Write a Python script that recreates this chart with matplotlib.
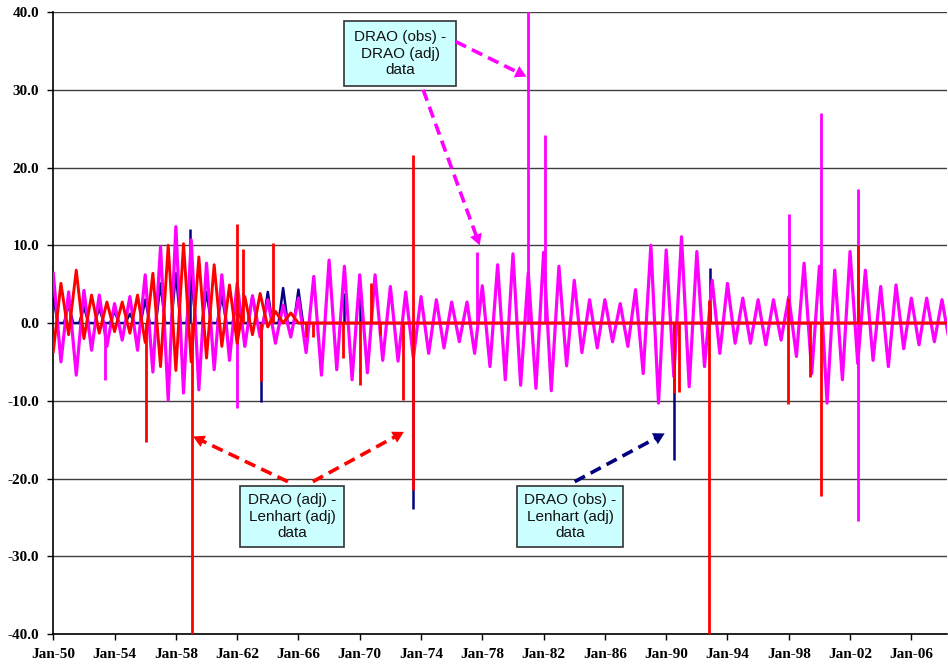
import numpy as np
import matplotlib.pyplot as plt
from matplotlib.patches import Rectangle

# ---- data ----
# DRAO (obs) - DRAO (adj): January highs and July lows, 1950-2008
years = np.arange(1950, 2009)
mag_jan = [6.4, 4.0, 4.2, 3.6, 2.5, 3.4, 6.2, 9.8, 12.4, 10.7,
           7.7, 6.2, 5.1, 3.5, 3.0, 2.3, 3.2, 6.0, 8.1, 7.3,
           6.2, 6.2, 4.7, 4.0, 3.4, 3.0, 2.7, 2.7, 4.8, 7.5,
           8.9, 6.5, 9.1, 7.3, 5.5, 3.0, 3.0, 2.5, 4.3, 10.0,
           9.4, 11.1, 9.2, 5.5, 5.1, 3.2, 3.0, 3.0, 3.4, 7.7,
           7.3, 6.8, 9.2, 6.8, 4.7, 4.9, 3.2, 3.2, 3.0]
mag_jul = [-5.0, -6.7, -3.5, -3.0, -2.2, -3.5, -6.3, -9.9, -9.0, -8.6,
           -6.0, -4.8, -3.0, -1.8, -2.6, -1.8, -3.8, -6.7, -6.0, -7.3,
           -6.4, -4.8, -4.9, -4.5, -3.9, -3.2, -2.4, -3.9, -5.6, -7.3,
           -8.0, -8.4, -8.7, -5.5, -3.8, -3.2, -2.4, -3.0, -6.5, -10.3,
           -6.9, -8.2, -5.6, -3.9, -2.6, -2.6, -2.8, -2.2, -4.3, -6.5,
           -10.3, -7.3, -5.2, -4.8, -5.6, -3.3, -2.8, -2.4, -2.6]
mag_spike_t = [1953.37, 1961.96, 1977.68, 1981.00, 1982.10, 1998.00, 2000.08, 2002.51]
mag_spike_lo = [-7.3, -10.9, 0.0, 0.0, 0.0, 0.0, 0.0, -25.5]
mag_spike_hi = [0.0, 5.0, 9.2, 45.0, 24.2, 14.0, 27.0, 17.2]

# DRAO (adj) - Lenhart (adj): seasonal wave until 1966, then zero
red_years = np.arange(1950, 1967)
red_jan = [-3.7, -1.5, -2.0, -1.3, -1.1, -1.3, -2.5, -5.6, -6.1, -5.0,
           -4.5, -3.0, -2.6, -1.5, -0.5, 0.0, 0.0]
red_jul = [5.1, 6.8, 3.6, 2.7, 2.7, 3.6, 6.4, 10.0, 10.2, 8.5,
           7.5, 4.9, 3.4, 3.8, 1.5, 1.3]
red_spike_t = [1956.03, 1959.05, 1961.96, 1962.35, 1963.55, 1964.35, 1966.50,
               1966.94, 1968.90, 1970.00, 1970.72, 1971.30, 1972.85, 1973.45,
               1990.50, 1990.84, 1992.80, 1997.98, 1999.41, 2000.08, 2002.50]
red_spike_lo = [-15.3, -45.0, -2.6, 0.0, -7.5, 0.0, -1.8,
                -1.8, -4.5, -8.0, 0.0, -1.5, -9.9, -21.5,
                -9.0, -8.9, -45.0, -10.4, -7.0, -22.3, 0.0]
red_spike_hi = [0.0, 0.0, 12.7, 9.5, 0.0, 10.3, 0.0,
                0.0, 0.0, 0.0, 5.1, 0.0, 0.0, 21.6,
                0.0, 0.0, 3.0, 3.2, 0.0, 0.0, 10.1]

# DRAO (obs) - Lenhart (adj): January humps until 1966
navy_years = np.arange(1950, 1967)
navy_jan = [3.2, 2.3, 2.1, 1.9, 1.5, 1.2, 3.0, 5.1, 6.4, 6.0,
            4.0, 3.5, 3.0, 3.5, 4.0, 4.5, 4.3]
navy_spike_t = [1958.95, 1963.55, 1969.00, 1970.00, 1973.45, 1990.50, 1992.84]
navy_spike_lo = [0.0, -10.1, 0.0, 0.0, -23.9, -17.6, 0.0]
navy_spike_hi = [12.1, 0.0, 3.8, 3.4, 0.0, 0.0, 7.1]

tick_years = np.arange(1950, 2007, 4)
tick_labels = ["Jan-%02d" % (y % 100) for y in tick_years]

# ---- build series ----
mag_t = np.empty(2 * len(years))
mag_t[0::2] = years
mag_t[1::2] = years + 0.5
mag_v = np.empty(2 * len(years))
mag_v[0::2] = mag_jan
mag_v[1::2] = mag_jul

red_t = np.empty(len(red_jan) + len(red_jul))
red_t[0::2] = red_years
red_t[1::2] = red_years[:-1] + 0.5
red_v = np.empty(len(red_t))
red_v[0::2] = red_jan
red_v[1::2] = red_jul
red_t = np.append(red_t, 2008.5)
red_v = np.append(red_v, 0.0)

navy_t, navy_v = [], []
for y, p in zip(navy_years, navy_jan):
    navy_t += [y - 0.3, y, y + 0.3]
    navy_v += [0.0, p, 0.0]
navy_t.append(2008.5)
navy_v.append(0.0)

# ---- figure ----
fig = plt.figure(figsize=(9.48, 6.66), dpi=100)
ax = fig.add_axes([0.0562, 0.0480, 0.9428, 0.9339])

MAG, RED, NAVY = "#FF00FF", "#FF0000", "#000080"

ax.plot(navy_t, navy_v, color=NAVY, lw=1.8, zorder=2)
ax.vlines(navy_spike_t, navy_spike_lo, navy_spike_hi, colors=NAVY, lw=1.8, zorder=2)
ax.plot(mag_t, mag_v, color=MAG, lw=2.3, zorder=3)
ax.vlines(mag_spike_t, mag_spike_lo, mag_spike_hi, colors=MAG, lw=2.0, zorder=3)
ax.plot(red_t, red_v, color=RED, lw=2.1, zorder=4)
ax.vlines(red_spike_t, red_spike_lo, red_spike_hi, colors=RED, lw=2.0, zorder=4)

ax.set_xlim(1950, 2008.33)
ax.set_ylim(-40, 40)
ax.set_yticks(np.arange(-40, 41, 10))
ax.set_yticklabels(["%.1f" % v for v in np.arange(-40, 41, 10)])
ax.set_xticks(tick_years)
ax.set_xticklabels(tick_labels)
ax.yaxis.grid(True, color="#404040", lw=1)
ax.set_axisbelow(True)
for s in ["top", "right"]:
    ax.spines[s].set_visible(False)
for s in ["left", "bottom"]:
    ax.spines[s].set_color("black")
    ax.spines[s].set_linewidth(1.2)
ax.tick_params(direction="out", length=4, width=1, pad=6,
               labelsize=11, colors="black")
for lab in ax.get_xticklabels() + ax.get_yticklabels():
    lab.set_fontfamily("Liberation Serif")
    lab.set_fontweight("bold")


# ---- callout boxes and dashed arrows ----
def callout(x0, y0, w, h, text):
    ax.add_patch(Rectangle((x0, y0), w, h, facecolor="#CCFFFF",
                           edgecolor="#333333", lw=1.2, zorder=6))
    ax.text(x0 + w / 2, y0 + h / 2, text, ha="center", va="center",
            fontsize=11, family="Liberation Sans", linespacing=1.25,
            color="#111111", zorder=7)


def dashed_arrow(start, end, color):
    sx, sy = start
    ex, ey = end
    # stop the dashes a bit short of the head
    fx = ex - 0.05 * (ex - sx)
    fy = ey - 0.05 * (ey - sy)
    ax.plot([sx, fx], [sy, fy], color=color, lw=2.6,
            linestyle=(0, (3.2, 1.8)), zorder=6, solid_capstyle="butt")
    ax.annotate("", xy=end, xytext=(ex - 0.08 * (ex - sx), ey - 0.08 * (ey - sy)),
                arrowprops=dict(arrowstyle="-|>,head_length=0.8,head_width=0.45",
                                color=color, lw=0, mutation_scale=10,
                                shrinkA=0, shrinkB=0),
                zorder=6)


callout(1968.98, 30.48, 7.31, 8.36, "DRAO (obs) -\nDRAO (adj)\ndata")
callout(1962.19, -28.81, 6.79, 7.85, "DRAO (adj) -\nLenhart (adj)\ndata")
callout(1980.29, -28.81, 6.88, 7.85, "DRAO (obs) -\nLenhart (adj)\ndata")

dashed_arrow((1976.26, 36.2), (1980.88, 31.7), MAG)
dashed_arrow((1974.14, 30.0), (1977.83, 10.0), MAG)
dashed_arrow((1965.31, -20.4), (1959.13, -14.6), RED)
dashed_arrow((1966.94, -20.4), (1972.88, -14.0), RED)
dashed_arrow((1984.03, -20.4), (1989.90, -14.2), NAVY)

fig.savefig("out.png", dpi=100)
